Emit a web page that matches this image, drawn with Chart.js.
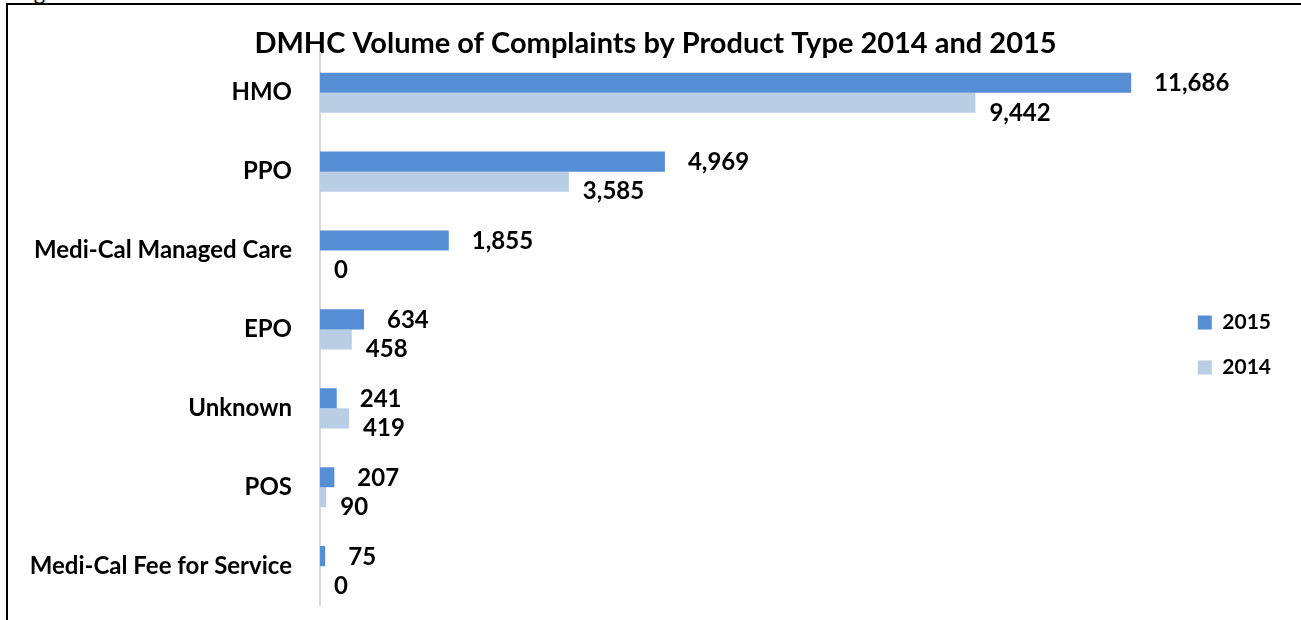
<!DOCTYPE html>
<html>
<head>
<meta charset="utf-8">
<script src="https://cdn.jsdelivr.net/npm/chart.js@4.4.1/dist/chart.umd.min.js"></script>
<style>
    html, body { margin: 0; padding: 0; background: #fff; }
    body { width: 1301px; height: 620px; overflow: hidden; position: relative; }
    .frame {
        position: absolute; left: 6px; top: 3px; width: 1300px; height: 640px;
        border-left: 2px solid #000; border-top: 2px solid #000;
    }
    .cut {
        position: absolute; left: 16px; top: -22px; line-height: 22px;
        font: 22px Lato, sans-serif; color: #000;
    }
    .chart-wrap { position: absolute; left: 0; top: 0; width: 1301px; height: 640px; }
</style>
</head>
<body>
<div class="cut">Figure</div>
<div class="frame"></div>
<div class="chart-wrap"><canvas id="complaintsChart"></canvas></div>
<script>
// DMHC complaints by product type
const categories = ['HMO', 'PPO', 'Medi-Cal Managed Care', 'EPO', 'Unknown', 'POS', 'Medi-Cal Fee for Service'];
const values2015 = [11686, 4969, 1855, 634, 241, 207, 75];
const values2014 = [9442, 3585, 0, 458, 419, 90, 0];
const seriesLabels = ['2015', '2014'];

const color2015 = '#558ED5';
const color2014 = '#B9CDE5';
const fontFamily = 'Lato, "Open Sans", sans-serif';

// Value labels drawn next to bar ends, Excel style
const barLabels = {
    id: 'barLabels',
    afterDatasetsDraw(chart) {
        const ctx = chart.ctx;
        ctx.save();
        ctx.font = 'bold 24px ' + fontFamily;
        ctx.fillStyle = '#000';
        ctx.textAlign = 'left';
        ctx.textBaseline = 'middle';
        chart.data.datasets.forEach((ds, i) => {
            const meta = chart.getDatasetMeta(i);
            meta.data.forEach((bar, j) => {
                const text = ds.data[j].toLocaleString('en-US');
                const dx = i === 0 ? 23 : 14;
                const dy = i === 0 ? 1 : 10;
                ctx.fillText(text, bar.x + dx, bar.y + dy);
            });
        });
        ctx.restore();
    }
};

const ctx = document.getElementById('complaintsChart').getContext('2d');
new Chart(ctx, {
    type: 'bar',
    data: {
        labels: categories,
        datasets: [{
            label: seriesLabels[0],
            data: values2015,
            backgroundColor: color2015,
            categoryPercentage: 0.51,
            barPercentage: 1.0
        }, {
            label: seriesLabels[1],
            data: values2014,
            backgroundColor: color2014,
            categoryPercentage: 0.51,
            barPercentage: 1.0
        }]
    },
    options: {
        indexAxis: 'y',
        responsive: true,
        maintainAspectRatio: false,
        animation: false,
        layout: {
            padding: { top: 0, bottom: 0, right: 20, left: 30 }
        },
        plugins: {
            title: {
                display: true,
                text: 'DMHC Volume of Complaints by Product Type 2014 and 2015',
                color: '#000',
                font: { family: fontFamily, size: 29, weight: 'bold', lineHeight: 0.7 },
                padding: { top: 33, bottom: 0 }
            },
            legend: {
                position: 'right',
                title: {
                    display: true,
                    text: '',
                    font: { size: 10 },
                    padding: { top: 19, bottom: 19 }
                },
                labels: {
                    boxWidth: 14,
                    boxHeight: 14,
                    padding: 24,
                    color: '#000',
                    font: { family: fontFamily, size: 21, weight: 'bold' }
                }
            },
            tooltip: { enabled: false }
        },
        scales: {
            x: {
                min: 0,
                max: 12300,
                display: false,
                grid: { display: false }
            },
            y: {
                grid: { display: false },
                border: { display: true, color: '#D9D9D9', width: 2 },
                ticks: {
                    color: '#000',
                    padding: 20,
                    font: { family: fontFamily, size: 24, weight: 'bold' }
                },
                afterFit: (scale) => {
                    scale.width = 290;
                }
            }
        }
    },
    plugins: [barLabels]
});
</script>
</body>
</html>
